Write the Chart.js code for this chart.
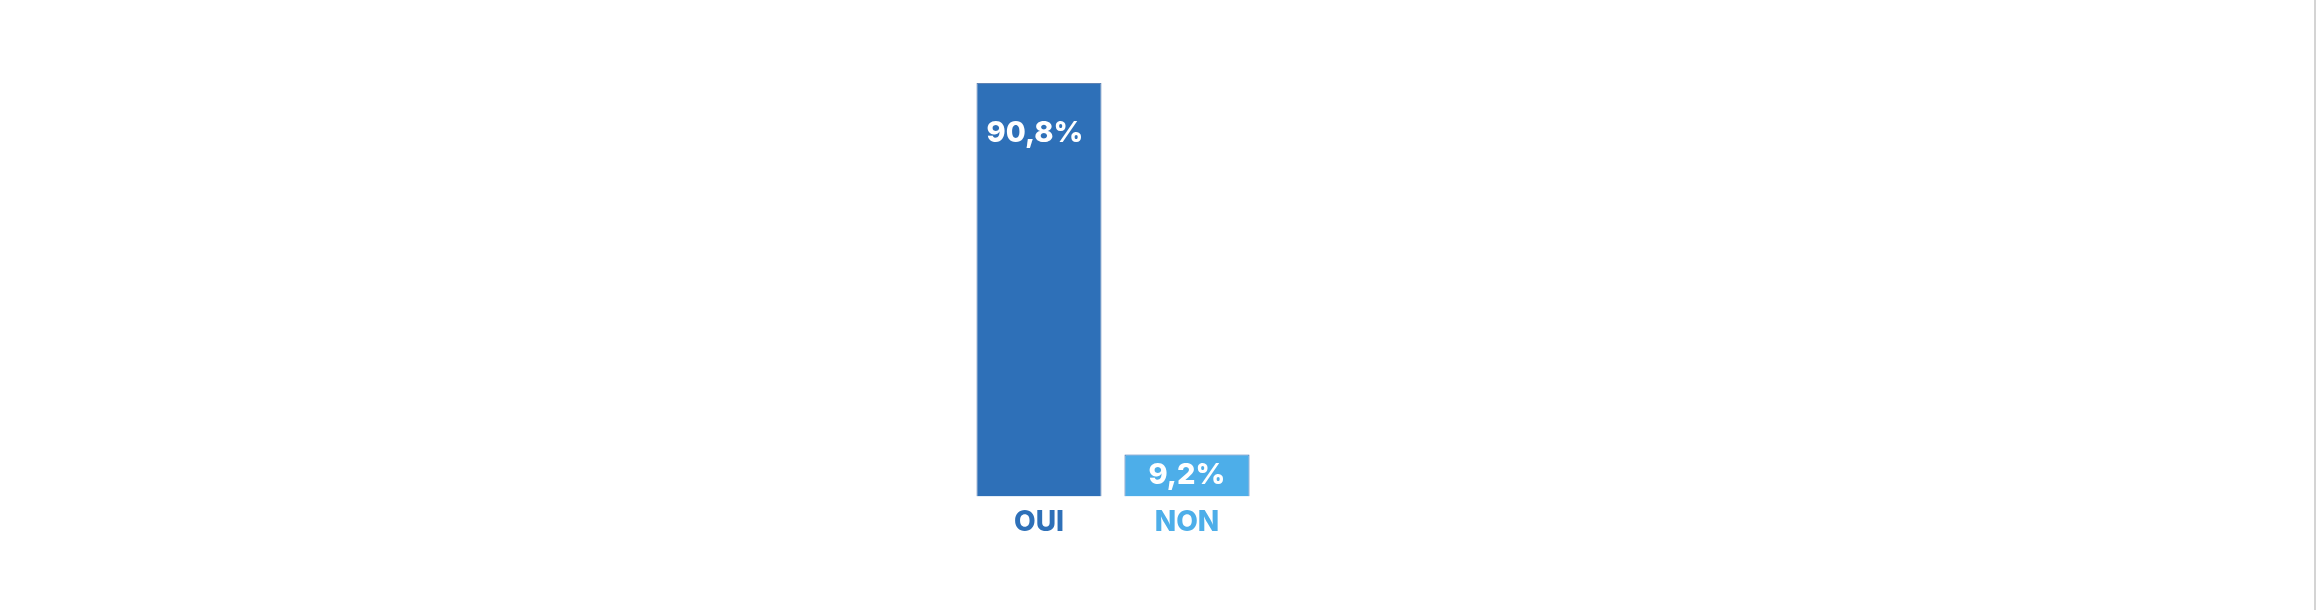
<!DOCTYPE html>
<html lang="fr">
<head>
    <meta charset="UTF-8">
    <title>Oui / Non</title>
    <script src="https://cdn.jsdelivr.net/npm/chart.js"></script>
    <style>
        html, body { margin: 0; padding: 0; background: #fff; }
        .fundo { width: 2314px; height: 610px; border-right: 2px solid #d4d4d4; }
    </style>
</head>
<body>
<div class="fundo">
    <canvas id="myChart" width="2314" height="610"></canvas>
</div>

<script>
// donnees
const categorias = ['OUI', 'NON'];
const valores = [90.8, 9.2];
const rotulos = ['90,8%', '9,2%'];
const cores = ['#2E70B8', '#4DAEE9'];
const bordas = ['#6083b3', '#3f6db0'];

// rotulos dentro das barras
const rotuloPlugin = {
    id: 'rotulos',
    afterDatasetsDraw(chart) {
        const ctx = chart.ctx;
        const meta = chart.getDatasetMeta(0);
        ctx.save();
        ctx.fillStyle = '#ffffff';
        ctx.font = '800 29px Inter, "DejaVu Sans", sans-serif';
        ctx.textAlign = 'center';
        ctx.textBaseline = 'middle';
        meta.data.forEach(function (bar, i) {
            var altura = bar.base - bar.y;
            var y = altura > 100 ? bar.y + 50 : bar.y + altura / 2;
            ctx.fillText(rotulos[i], bar.x - 4 * (altura > 100 ? 1 : 0), y);
        });
        ctx.restore();
    }
};

const config = {
    type: 'bar',
    data: {
        labels: categorias,
        datasets: [{
            data: valores,
            backgroundColor: cores,
            borderColor: bordas,
            borderWidth: 1,
            barPercentage: 0.845,
            categoryPercentage: 1
        }]
    },
    options: {
        responsive: false,
        animation: false,
        layout: { padding: { left: 965, right: 1053, top: 83, bottom: 62 } },
        plugins: { legend: { display: false }, tooltip: { enabled: false } },
        scales: {
            y: { display: false, min: 0, max: 90.8 },
            x: {
                grid: { display: false, drawTicks: false },
                border: { display: false },
                ticks: {
                    padding: 9,
                    font: { family: 'Inter', size: 28, weight: '800' },
                    color: function (c) { return cores[c.index]; }
                }
            }
        }
    },
    plugins: [rotuloPlugin]
};

const grafico = new Chart(document.getElementById('myChart'), config);
</script>
</body>
</html>
